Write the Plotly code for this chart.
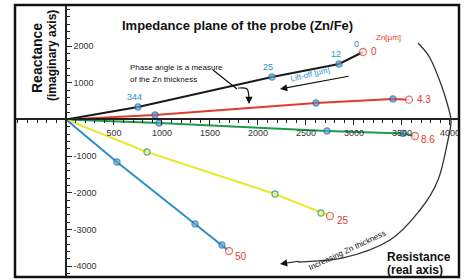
import plotly.graph_objects as go

# ---------------- data ----------------
liftoff_labels = ["344", "25", "12", "0"]      # lift-off [µm] along Zn = 0 curve
zn_labels = ["0", "4.3", "8.6", "25", "50"]     # Zn thickness [µm]

r_zn0 = [0, 750, 2146, 2844, 3094]
x_zn0 = [0, 341, 1158, 1512, 1839]
r_zn43 = [0, 927, 2604, 3406, 3573]
x_zn43 = [0, 123, 450, 560, 540]
r_zn86 = [0, 969, 2719, 3510, 3635]
x_zn86 = [0, -95, -313, -380, -450]
r_zn25 = [0, 844, 2177, 2656, 2750]
x_zn25 = [0, -886, -2030, -2548, -2629]
r_zn50 = [0, 531, 1344, 1625, 1698]
x_zn50 = [0, -1158, -2847, -3420, -3583]

x_tick_vals = [500, 1000, 1500, 2000, 2500, 3000, 3500, 4000]
x_tick_text = ["500", "1000", "1500", "2000", "2500", "3000", "3500", "4000"]
y_tick_vals = [2000, 1000, -1000, -2000, -3000, -4000]
y_tick_text = ["2000", "1000", "-1000", "-2000", "-3000", "-4000"]

# ---------------- styling ----------------
W, H = 466, 280
ML, MR, MT, MB = 15, 7, 5, 3
XR = [-531, 4094]
YR = [-4292, 3120]
AX = "#222222"
RED = "#e23b2e"
BLUE = "#2c8ecb"
FONT = "Liberation Sans, Arial, sans-serif"


def P(px, py):
    """pixel position -> paper coordinates (decorations only)"""
    return (px - ML) / (W - ML - MR), (H - MB - py) / (H - MT - MB)


x_pos = (0 - YR[0]) / (YR[1] - YR[0])
y_pos = (0 - XR[0]) / (XR[1] - XR[0])

series = [
    (r_zn0, x_zn0, "#1a1a1a", "#5aa9d6", "#1f6fa3"),
    (r_zn43, x_zn43, "#e23b2e", "#5a8fc0", "#2d5f95"),
    (r_zn86, x_zn86, "#1f9a4b", "#5aa9d6", "#1f6fa3"),
    (r_zn25, x_zn25, "#ece734", "#e8f5c8", "#2a9a40"),
    (r_zn50, x_zn50, "#2c8ecb", "#5aa9d6", "#1f6fa3"),
]

fig = go.Figure()
for rv, xv, lc, mfill, mline in series:
    n = len(rv)
    sizes = [0] + [6] * (n - 2) + [7]
    fills = [mfill] * (n - 1) + ["white"]
    lines = [mline] * (n - 1) + [RED]
    fig.add_trace(go.Scatter(
        x=rv, y=xv, mode="lines+markers",
        line=dict(color=lc, width=2),
        marker=dict(size=sizes, color=fills, line=dict(color=lines, width=1.3)),
        hoverinfo="skip", showlegend=False, cliponaxis=False,
    ))

annotations = []
# Zn thickness labels at the end of each curve
end_shifts = [(6, 1), (6, 0), (4, -3), (5, -5), (4, -6)]
for (rv, xv, *_), lab, (dx, dy) in zip(series, zn_labels, end_shifts):
    annotations.append(dict(x=rv[-1], y=xv[-1], text=lab, showarrow=False,
                            xanchor="left", yanchor="middle", xshift=dx, yshift=dy,
                            font=dict(family=FONT, size=10, color=RED)))
# lift-off labels on the Zn = 0 curve
lift_shifts = [(-3, 10), (-4, 10), (-3, 10), (-7, 8)]
for i, (lab, (dx, dy)) in enumerate(zip(liftoff_labels, lift_shifts)):
    annotations.append(dict(x=r_zn0[i + 1], y=x_zn0[i + 1], text=lab, showarrow=False,
                            xshift=dx, yshift=dy,
                            font=dict(family=FONT, size=9, color=BLUE)))


def text(px, py, t, size, color="#111", bold=False, angle=0, anchor="center"):
    x, y = P(px, py)
    annotations.append(dict(x=x, y=y, xref="paper", yref="paper", text=(f"<b>{t}</b>" if bold else t),
                            showarrow=False, textangle=angle, xanchor=anchor, yanchor="middle",
                            font=dict(family=FONT, size=size, color=color)))


def arrow(hx, hy, tx, ty, color="#111", width=1.2):
    x, y = P(hx, hy)
    annotations.append(dict(x=x, y=y, xref="paper", yref="paper", text="", showarrow=True,
                            ax=tx - hx, ay=ty - hy, arrowhead=2, arrowsize=1.2,
                            arrowwidth=width, arrowcolor=color))


text(237, 26, "Impedance plane of the probe (Zn/Fe)", 13, bold=True)
text(37, 58, "Reactance", 14, bold=True, angle=-90)
text(52, 56, "(imaginary axis)", 12, bold=True, angle=-90)
text(385, 257, "Resistance", 12, bold=True, anchor="left")
text(385, 270, "(real axis)", 12, bold=True, anchor="left")
text(128, 68, "Phase angle is a measure", 8, anchor="left")
text(128, 79, "of the Zn thickness", 8, anchor="left")
text(388, 37, "Zn[µm]", 8, color=RED)
text(310, 74, "Lift-off [µm]", 8, color=BLUE, angle=-14)
text(347, 250, "Increasing Zn thickness", 8, angle=-25)

arrow(280, 89, 350, 76)
arrow(249, 104, 249, 97)
arrow(280, 264, 300, 261)

# decorative paths (paper coordinates built from pixel points)
arc_px = [(418, 43), (430, 58), (442, 87), (449, 110), (451, 122), (448, 140),
          (438, 180), (420, 210), (390, 240), (343, 258), (298, 262)]


def smooth_path(pts):
    pp = [P(*p) for p in pts]
    d = f"M {pp[0][0]:.4f},{pp[0][1]:.4f}"
    for i in range(len(pp) - 1):
        p0 = pp[i - 1] if i > 0 else pp[i]
        p1, p2 = pp[i], pp[i + 1]
        p3 = pp[i + 2] if i + 2 < len(pp) else pp[i + 1]
        c1 = (p1[0] + (p2[0] - p0[0]) / 6, p1[1] + (p2[1] - p0[1]) / 6)
        c2 = (p2[0] - (p3[0] - p1[0]) / 6, p2[1] - (p3[1] - p1[1]) / 6)
        d += f" C {c1[0]:.4f},{c1[1]:.4f} {c2[0]:.4f},{c2[1]:.4f} {p2[0]:.4f},{p2[1]:.4f}"
    return d


shapes = [
    dict(type="rect", xref="paper", yref="paper", x0=0, x1=1, y0=0, y1=1,
         line=dict(color="#111", width=2.5)),
    dict(type="path", xref="paper", yref="paper", path=smooth_path(arc_px),
         line=dict(color="#333", width=1.3)),
    dict(type="path", xref="paper", yref="paper",
         path=smooth_path([(213, 70), (237, 89)]), line=dict(color="#111", width=1.2)),
    dict(type="path", xref="paper", yref="paper",
         path=smooth_path([(238, 88), (247, 89), (249, 98)]), line=dict(color="#111", width=1.2)),
]

tickfont = dict(family=FONT, size=9, color="#333")
minor_x = dict(tickmode="linear", tick0=0, dtick=100, ticks="outside", ticklen=3,
               tickcolor=AX, tickwidth=1, showgrid=False)
minor_y = dict(tickmode="linear", tick0=0, dtick=200, ticks="outside", ticklen=3,
               tickcolor=AX, tickwidth=1, showgrid=False)
common = dict(showgrid=False, zeroline=False, tickcolor=AX, tickwidth=1.3, ticklen=5,
              ticks="outside", fixedrange=True, automargin=False)

fig.update_layout(
    width=W, height=H, autosize=False,
    margin=dict(l=ML, r=MR, t=MT, b=MB, autoexpand=False),
    paper_bgcolor="white", plot_bgcolor="white",
    xaxis=dict(range=XR, anchor="free", position=x_pos, side="bottom", showline=True,
               linecolor=AX, linewidth=1.5, tickmode="array", tickvals=x_tick_vals,
               ticktext=x_tick_text, tickfont=tickfont, minor=minor_x, **common),
    xaxis2=dict(range=XR, overlaying="x", anchor="free", position=x_pos, side="top",
                showline=False, showticklabels=False, tickmode="array", tickvals=x_tick_vals,
                minor=minor_x, **common),
    yaxis=dict(range=YR, anchor="free", position=y_pos, side="right", showline=True,
               linecolor=AX, linewidth=1.5, tickmode="array", tickvals=y_tick_vals,
               ticktext=y_tick_text, tickfont=tickfont, minor=minor_y, **common),
    yaxis2=dict(range=YR, overlaying="y", anchor="free", position=y_pos, side="left",
                showline=False, showticklabels=False, tickmode="array", tickvals=y_tick_vals,
                minor=minor_y, **common),
    annotations=annotations,
    shapes=shapes,
)

fig.write_html("out.html", config={"displayModeBar": False},
               post_script="document.body.style.margin='0';document.body.style.overflow='hidden';")
